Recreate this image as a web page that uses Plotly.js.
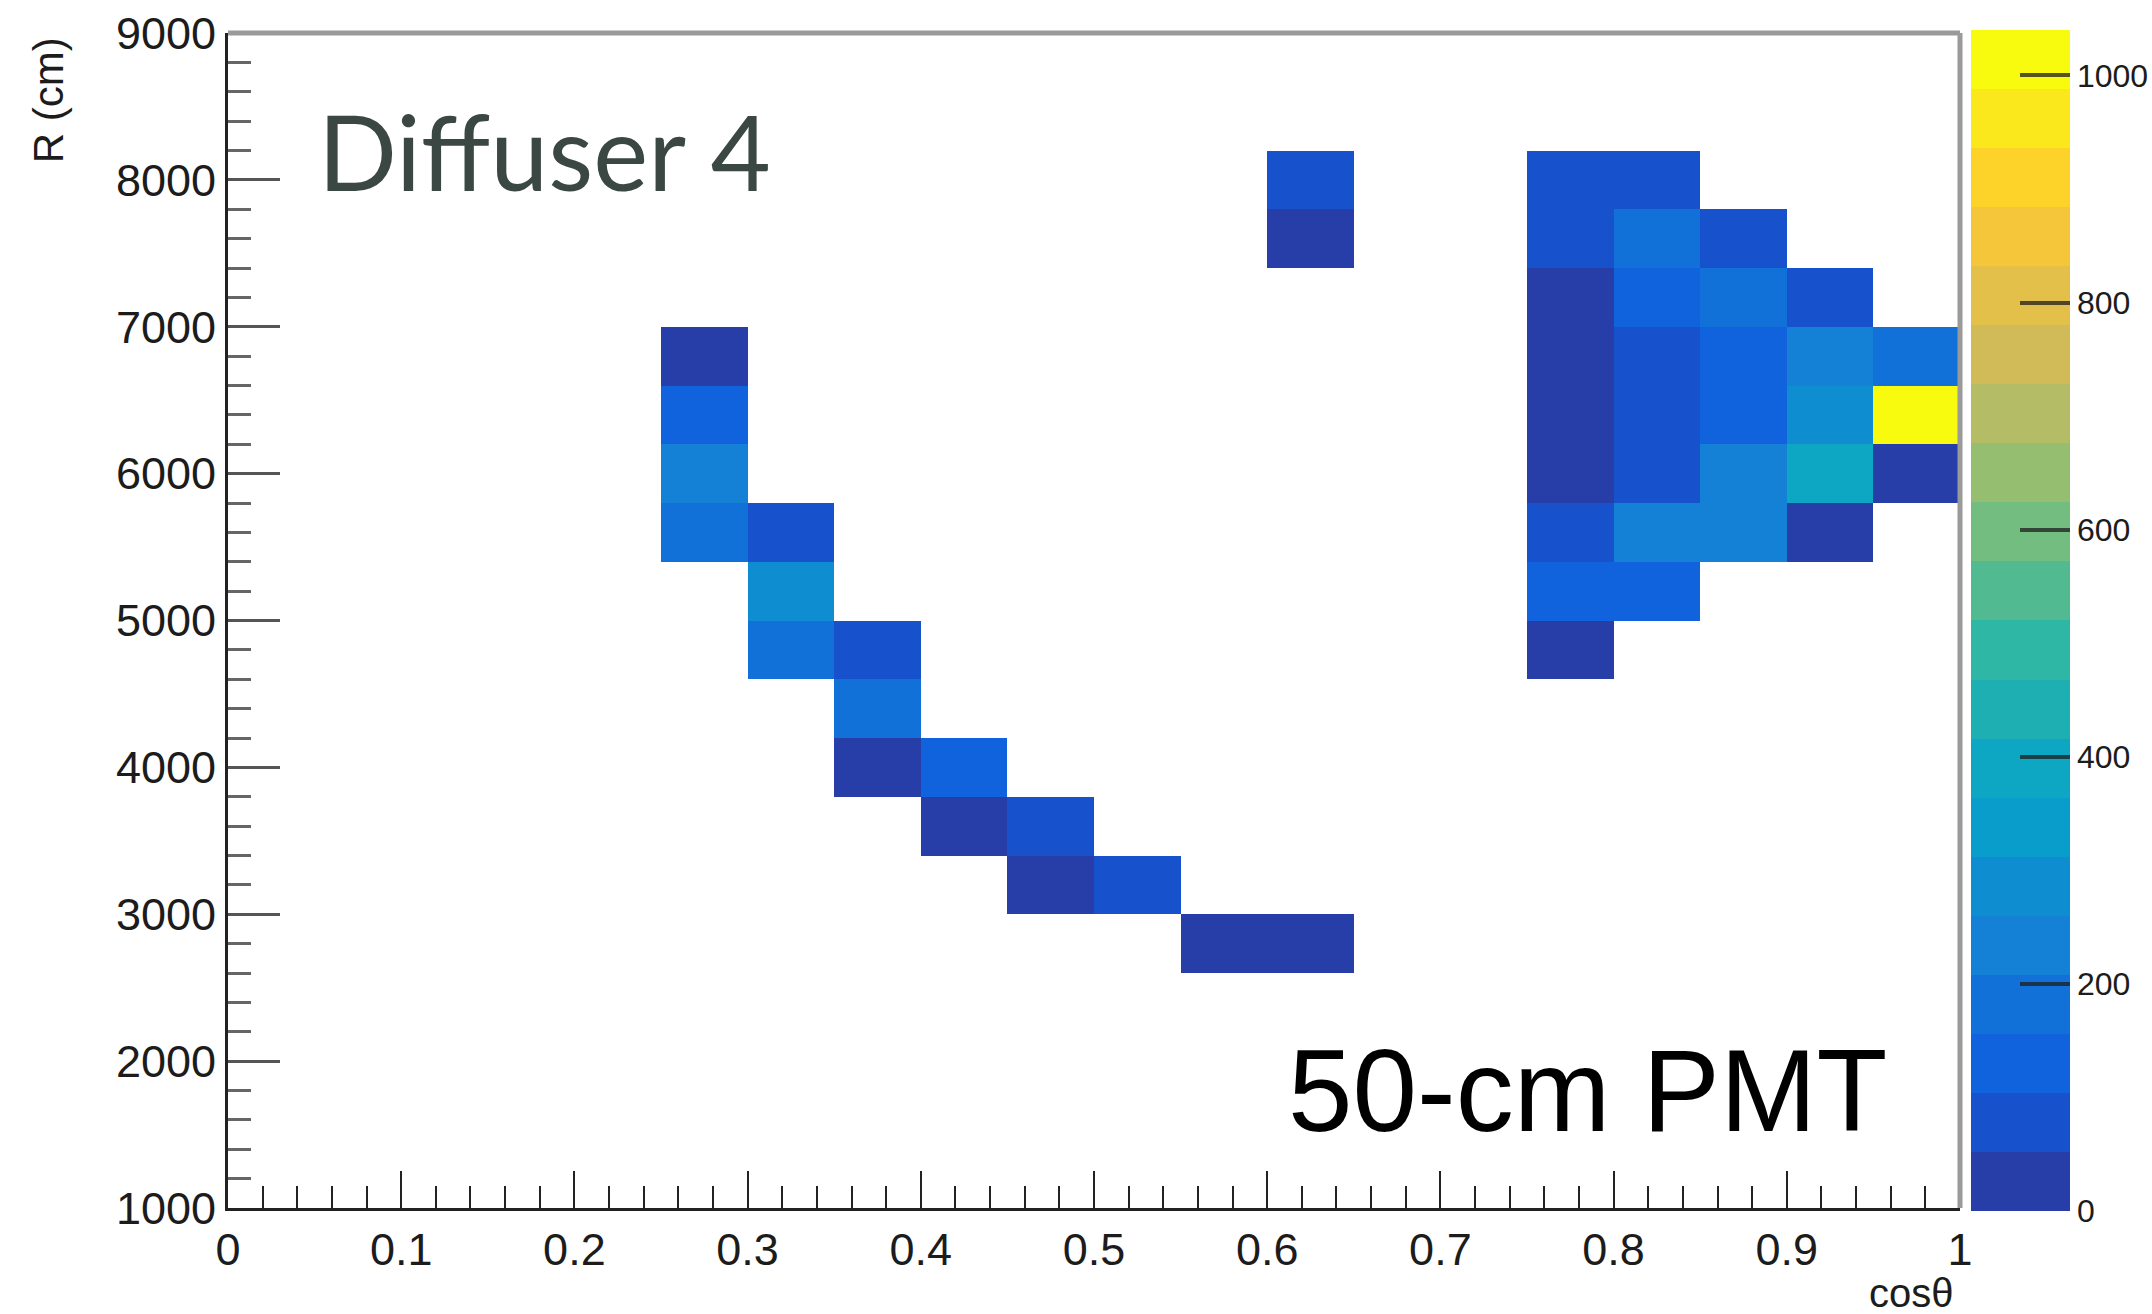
<!DOCTYPE html>
<html>
<head>
<meta charset="utf-8">
<script src="https://cdn.plot.ly/plotly-3.0.1.min.js"></script>
<style>
  html, body { margin: 0; padding: 0; background: #ffffff; }
  #chart { width: 2152px; height: 1314px; }
</style>
</head>
<body>
<div id="chart"></div>
<script>
// Filled bins of the cosθ vs R histogram (bin centres and entries per bin)
const cosTheta = [
  0.275, 0.275, 0.275, 0.275,
  0.325, 0.325, 0.325,
  0.375, 0.375, 0.375,
  0.425, 0.425,
  0.475, 0.475,
  0.525,
  0.575,
  0.625, 0.625, 0.625,
  0.775, 0.775, 0.775, 0.775, 0.775, 0.775, 0.775, 0.775, 0.775,
  0.825, 0.825, 0.825, 0.825, 0.825, 0.825, 0.825, 0.825,
  0.875, 0.875, 0.875, 0.875, 0.875, 0.875,
  0.925, 0.925, 0.925, 0.925, 0.925,
  0.975, 0.975, 0.975
];
const radius = [
  6800, 6400, 6000, 5600,
  5600, 5200, 4800,
  4800, 4400, 4000,
  4000, 3600,
  3600, 3200,
  3200,
  2800,
  2800, 8000, 7600,
  8000, 7600, 7200, 6800, 6400, 6000, 5600, 5200, 4800,
  8000, 7600, 7200, 6800, 6400, 6000, 5600, 5200,
  7600, 7200, 6800, 6400, 6000, 5600,
  7200, 6800, 6400, 6000, 5600,
  6800, 6400, 6000
];
const counts = [
  30, 130, 235, 185,
  80, 290, 180,
  85, 190, 35,
  125, 30,
  75, 25,
  80,
  20,
  30, 70, 20,
  75, 90, 40, 35, 45, 40, 95, 135, 30,
  85, 175, 140, 95, 90, 85, 225, 125,
  80, 185, 130, 140, 220, 230,
  90, 240, 275, 380, 35,
  170, 1040, 45
];

// Histogram binning: 20 bins in cosθ over [0,1], 20 bins in R over [1000,9000] cm
const nBinsX = 20, xMin = 0, xMax = 1;
const nBinsY = 20, yMin = 1000, yMax = 9000;
const xWidth = (xMax - xMin) / nBinsX;
const yWidth = (yMax - yMin) / nBinsY;
const xCentres = Array.from({length: nBinsX}, (_, i) => xMin + (i + 0.5) * xWidth);
const yCentres = Array.from({length: nBinsY}, (_, j) => yMin + (j + 0.5) * yWidth);

// Fill the bin matrix; empty bins stay null so they are not painted
const z = yCentres.map(() => xCentres.map(() => null));
for (let k = 0; k < counts.length; k++) {
  const i = Math.floor((cosTheta[k] - xMin) / xWidth);
  const j = Math.floor((radius[k] - yMin) / yWidth);
  z[j][i] = counts[k];
}
const zMax = Math.max(...counts);

// ROOT "bird" palette, sampled into 20 flat contour bands
const birdStops = [0.0000, 0.1250, 0.2500, 0.3750, 0.5000, 0.6250, 0.7500, 0.8750, 1.0000];
const birdR = [0.2082, 0.0592, 0.0780, 0.0232, 0.1802, 0.5301, 0.8186, 0.9956, 0.9764];
const birdG = [0.1664, 0.3599, 0.5041, 0.6419, 0.7178, 0.7492, 0.7328, 0.7862, 0.9832];
const birdB = [0.5293, 0.8684, 0.8385, 0.7914, 0.6425, 0.4662, 0.3499, 0.1968, 0.0539];
function bird(f) {
  let s = 0;
  while (s < birdStops.length - 2 && f > birdStops[s + 1]) s++;
  const t = (f - birdStops[s]) / (birdStops[s + 1] - birdStops[s]);
  const c = arr => Math.round(255 * (arr[s] + (arr[s + 1] - arr[s]) * t));
  return `rgb(${c(birdR)},${c(birdG)},${c(birdB)})`;
}
const nContours = 20;
const colorscale = [];
for (let i = 0; i < nContours; i++) {
  const idx = Math.floor((i + 0.99) * 255 / nContours);
  const col = bird(Math.min(idx / 254, 1));
  colorscale.push([i / nContours, col]);
  colorscale.push([(i + 1) / nContours, col]);
}

const axisFamily = 'Liberation Sans Narrow, Arial Narrow, Liberation Sans, sans-serif';
const axisFont = {family: axisFamily, size: 45, color: '#1c1c1c'};

const trace = {
  type: 'heatmap',
  x: xCentres,
  y: yCentres,
  z: z,
  zmin: 0,
  zmax: zMax,
  zsmooth: false,
  colorscale: colorscale,
  hoverongaps: false,
  colorbar: {
    thickness: 99,
    thicknessmode: 'pixels',
    len: 1.005,
    lenmode: 'fraction',
    x: 1.0064,
    xanchor: 'left',
    xpad: 0,
    y: 0.5,
    yanchor: 'middle',
    ypad: 0,
    outlinewidth: 0,
    tick0: 0,
    dtick: 200,
    ticks: 'inside',
    ticklen: 50,
    tickwidth: 4,
    tickcolor: 'rgba(30,30,30,0.75)',
    tickfont: {family: axisFamily, size: 32, color: '#1c1c1c'}
  }
};

const layout = {
  width: 2152,
  height: 1314,
  margin: {l: 228, r: 192, t: 33, b: 106, pad: 0, autoexpand: false},
  paper_bgcolor: '#ffffff',
  plot_bgcolor: '#ffffff',
  showlegend: false,
  xaxis: {
    range: [xMin, xMax],
    tick0: 0,
    dtick: 0.1,
    ticks: 'inside',
    ticklen: 37,
    tickwidth: 2,
    tickcolor: '#222222',
    minor: {dtick: 0.02, ticks: 'inside', ticklen: 22, tickwidth: 2, tickcolor: '#222222', showgrid: false},
    showline: true,
    linecolor: '#222222',
    linewidth: 3,
    showgrid: false,
    zeroline: false,
    tickfont: axisFont,
    automargin: false,
    fixedrange: true
  },
  yaxis: {
    range: [yMin, yMax],
    tick0: 1000,
    dtick: 1000,
    ticks: 'inside',
    ticklen: 52,
    tickwidth: 3,
    tickcolor: '#555555',
    minor: {dtick: 200, ticks: 'inside', ticklen: 23, tickwidth: 3, tickcolor: '#666666', showgrid: false},
    showline: true,
    linecolor: '#222222',
    linewidth: 3,
    showgrid: false,
    zeroline: false,
    tickfont: axisFont,
    automargin: false,
    fixedrange: true
  },
  shapes: [
    // upper and right edges of the frame
    {type: 'line', xref: 'paper', yref: 'paper', x0: 0, x1: 1, y0: 1, y1: 1,
     line: {color: '#9a9a9a', width: 5}, layer: 'above'},
    {type: 'line', xref: 'paper', yref: 'paper', x0: 1, x1: 1, y0: 0, y1: 1,
     line: {color: '#9a9a9a', width: 5}, layer: 'above'}
  ],
  annotations: [
    {text: 'R (cm)', xref: 'paper', yref: 'paper', x: -0.104, y: 0.998,
     xanchor: 'center', yanchor: 'top', textangle: -90, showarrow: false,
     font: {family: axisFamily, size: 42, color: '#1c1c1c'}},
    {text: 'cosθ', xref: 'paper', yref: 'paper', x: 0.9977, y: -0.072,
     xanchor: 'right', yanchor: 'middle', showarrow: false,
     font: {family: axisFamily, size: 40, color: '#1c1c1c'}},
    {text: 'Diffuser 4', xref: 'paper', yref: 'paper', x: 0.051, y: 0.9,
     xanchor: 'left', yanchor: 'middle', showarrow: false,
     font: {family: 'Lato, Noto Sans, sans-serif', size: 104, color: '#3a4743'}},
    {text: '50-cm PMT', xref: 'paper', yref: 'paper', x: 0.611, y: 0.1,
     xanchor: 'left', yanchor: 'middle', showarrow: false,
     font: {family: 'Liberation Sans, Arial, sans-serif', size: 116, color: '#000000'}}
  ]
};

Plotly.newPlot('chart', [trace], layout, {displayModeBar: false, staticPlot: true});
</script>
</body>
</html>
